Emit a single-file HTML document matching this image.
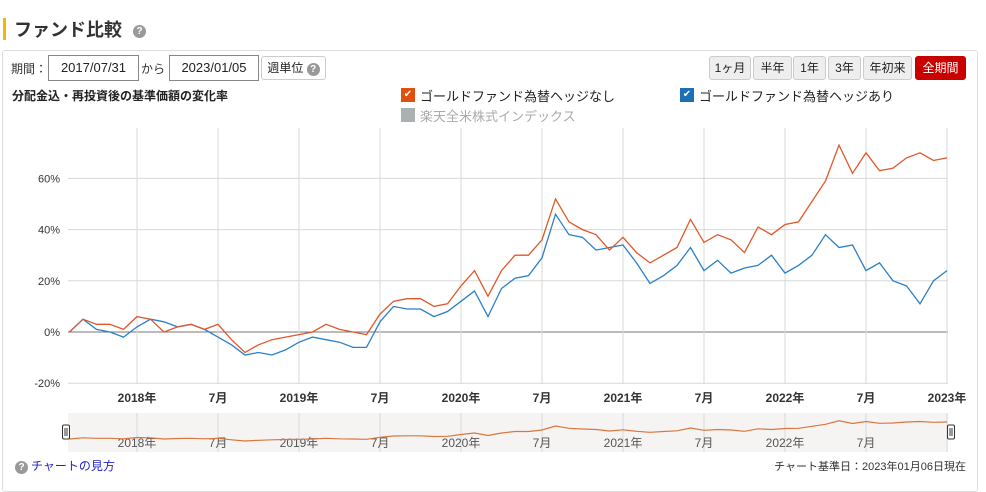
<!DOCTYPE html>
<html><head><meta charset="utf-8"><style>
body{margin:0;width:986px;height:479px;background:#fff;font-family:"Liberation Sans","Noto Sans CJK JP",sans-serif;position:relative;overflow:hidden;color:#333}
.abs{position:absolute}
.btn{position:absolute;top:56px;height:22px;border:1px solid #ccc;border-radius:3px;background:#eee;font-size:12px;line-height:22px;text-align:center;color:#222}
.inp{position:absolute;top:55px;height:24px;border:1px solid #888;font-size:13px;line-height:24px;text-align:center;color:#222}
.q{display:inline-block;width:13px;height:13px;border-radius:50%;background:#999;color:#fff;font-size:10px;line-height:13px;text-align:center;font-weight:bold}
.cb{position:absolute;width:14px;height:14px;color:#fff;font-size:10px;line-height:14px;text-align:center}
</style></head><body>
<div class="abs" style="left:3px;top:18px;width:3px;height:22px;background:#f5b800"></div>
<div class="abs" style="left:14px;top:16px;font-size:18px;font-weight:bold;color:#333">ファンド比較 <span class="q" style="vertical-align:2px;margin-left:6px">?</span></div>
<div class="abs" style="left:2px;top:50px;width:974px;height:440px;border:1px solid #ddd;border-radius:3px"></div>
<div class="abs" style="left:11px;top:60px;font-size:12px">期間：</div>
<div class="inp" style="left:48px;width:89px">2017/07/31</div>
<div class="abs" style="left:141px;top:60px;font-size:12px">から</div>
<div class="inp" style="left:169px;width:88px">2023/01/05</div>
<div class="btn" style="left:261px;width:63px;background:#fff">週単位 <span class="q">?</span></div>
<div class="btn" style="left:709px;width:40px">1ヶ月</div>
<div class="btn" style="left:753px;width:37px">半年</div>
<div class="btn" style="left:793px;width:31px">1年</div>
<div class="btn" style="left:828px;width:31px">3年</div>
<div class="btn" style="left:863px;width:47px">年初来</div>
<div class="btn" style="left:915px;width:49px;background:#c80000;border-color:#c80000;color:#fff">全期間</div>
<div class="abs" style="left:12px;top:87px;font-size:12px;font-weight:bold;color:#222">分配金込・再投資後の基準価額の変化率</div>
<div class="cb" style="left:401px;top:88px;background:#e0500e">✔</div>
<div class="abs" style="left:420px;top:86px;font-size:13px;color:#222">ゴールドファンド為替ヘッジなし</div>
<div class="cb" style="left:680px;top:88px;background:#1a6fb5">✔</div>
<div class="abs" style="left:699px;top:86px;font-size:13px;color:#222">ゴールドファンド為替ヘッジあり</div>
<div class="cb" style="left:401px;top:108px;background:#aab1b1"></div>
<div class="abs" style="left:420px;top:106px;font-size:13px;color:#aaa">楽天全米株式インデックス</div>
<svg class="abs" style="left:0;top:0" width="986" height="479" id="chart"></svg>
<div class="abs" style="left:15px;top:457px;font-size:12px;color:#22c"><span class="q" style="margin-right:3px">?</span>チャートの見方</div>
<div class="abs" style="left:770px;top:458px;width:196px;text-align:right;font-size:11px;color:#333">チャート基準日：2023年01月06日現在</div>
<script>
const unhedged=[0,5,3,3,1,6,5,0,2,3,1,3,-3,-8,-5,-3,-2,-1,0,3,1,0,-1,7,12,13,13,10,11,18,24,14,24,30,30,36,52,43,40,38,32,37,31,27,30,33,44,35,38,36,31,41,38,42,43,51,59,73,62,70,63,64,68,70,67,68];
const hedged=[0,5,1,0,-2,2,5,4,2,3,1,-2,-5,-9,-8,-9,-7,-4,-2,-3,-4,-6,-6,4,10,9,9,6,8,12,16,6,17,21,22,29,46,38,37,32,33,34,27,19,22,26,33,24,28,23,25,26,30,23,26,30,38,33,34,24,27,20,18,11,20,24];
const yTicks=[-20,0,20,40,60];
const yTickLabels=["-20%","0%","20%","40%","60%"];
const xTicks=[2018,2018.5,2019,2019.5,2020,2020.5,2021,2021.5,2022,2022.5,2023];
const xTickLabels=["2018年","7月","2019年","7月","2020年","7月","2021年","7月","2022年","7月","2023年"];
const NS="http://www.w3.org/2000/svg";
const svg=document.getElementById('chart');
const L=68,R=948,T=128,B=384;
const xT=t=>137+(t-2018)*162;
const xM=m=>xT(2017+(7+m)/12);
const yV=v=>332-v*2.56;
function el(tag,attrs,parent){const e=document.createElementNS(NS,tag);for(const k in attrs)e.setAttribute(k,attrs[k]);(parent||svg).appendChild(e);return e;}
yTicks.forEach((v,i)=>{
  const g=el('line',{x1:L,x2:R,y1:yV(v),y2:yV(v),stroke:v===0?'#777':'#d8d8d8','stroke-width':1});
  
  
  const t=el('text',{x:60,y:yV(v)+4,'text-anchor':'end','font-size':11,fill:'#333'});
  t.textContent=yTickLabels[i];
  
  
});
const nb=el('rect',{x:L,y:413,width:R-L,height:39,fill:'#f6f4f3'});


xTicks.forEach((t,i)=>{
  const g=el('line',{x1:xT(t),x2:xT(t),y1:T,y2:B,stroke:'#d8d8d8'});
  
  
  const lb=el('text',{x:xT(t),y:402,'text-anchor':'middle','font-size':12,'font-weight':'bold',fill:'#333'});
  lb.textContent=xTickLabels[i];
  
  
  const ng=el('line',{x1:xT(t),x2:xT(t),y1:413,y2:452,stroke:'#d8d8d8'});
  
  
  if(i<xTicks.length-1){
    const nl=el('text',{x:xT(t),y:447,'text-anchor':'middle','font-size':12,fill:'#555'});
    nl.textContent=xTickLabels[i];
    
    
  }
});
function path(arr,color,name){
  const d=arr.map((v,i)=>(i?'L':'M')+xM(i).toFixed(1)+','+yV(v).toFixed(1)).join('');
  const p=el('path',{d:d,fill:'none',stroke:color,'stroke-width':1.3});
  
  
}
path(hedged,'#2a80c8','series-hedged-line');
path(unhedged,'#e0582a','series-unhedged-line');
const nd=unhedged.map((v,i)=>(i?'L':'M')+xM(i).toFixed(1)+','+(439-v*0.25).toFixed(1)).join('');
const np=el('path',{d:nd,fill:'none',stroke:'#d9773f','stroke-width':1.2});


[L-2,R+3].forEach((x,i)=>{
  const h=el('rect',{x:x-3.5,y:425,width:7,height:14,rx:1.5,fill:'#fff',stroke:'#333'});
  
  
  el('line',{x1:x-1,x2:x-1,y1:428,y2:436,stroke:'#333'});
  el('line',{x1:x+1,x2:x+1,y1:428,y2:436,stroke:'#333'});
});
</script>
</body></html>
